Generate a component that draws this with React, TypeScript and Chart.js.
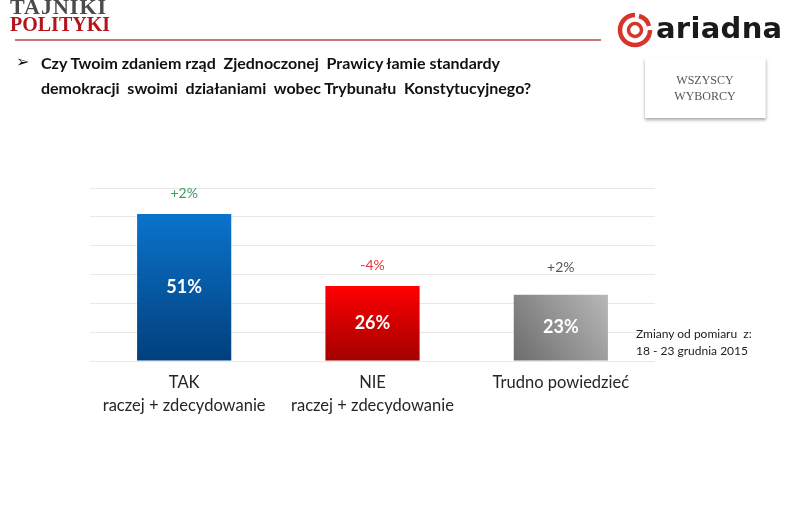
import React, { useEffect, useRef } from 'react';
import { Chart, registerables } from 'chart.js';

Chart.register(...registerables);

// ---- data ----
const categories: string[][] = [
  ['TAK', 'raczej + zdecydowanie'],
  ['NIE', 'raczej + zdecydowanie'],
  ['Trudno powiedzieć'],
];
const values = [51, 26, 23];
const valueLabels = ['51%', '26%', '23%'];
const changeLabels = ['+2%', '-4%', '+2%'];
const yMin = 0;
const yMax = 60;
const yStep = 10;

// ---- styles ----
const changeColors = ['#3a9a5e', '#e0353a', '#555555'];
const changeOffsets = [20, 21, 27];
const gradTop = ['#0a74cc', '#ff0000', '#b8b8b8'];
const gradBottom = ['#023f7c', '#a20000', '#6c6c6c'];
const FONT = 'Lato, "Open Sans", sans-serif';

function barFill(ctx: any) {
  const i = ctx.dataIndex;
  if (i === undefined) return gradTop[0];
  const chart = ctx.chart;
  const area = chart.chartArea;
  const ys = chart.scales.y;
  const xs = chart.scales.x;
  if (!area || !ys || !xs) return gradTop[i];
  const top = ys.getPixelForValue(values[i]);
  const base = ys.getPixelForValue(0);
  const cx = xs.getPixelForValue(i);
  const hw = (xs.width / values.length) * 0.25;
  const c = chart.ctx as CanvasRenderingContext2D;
  const g = i === 2
    ? c.createLinearGradient(cx + hw, top, cx - hw, base)
    : c.createLinearGradient(0, top, 0, base);
  g.addColorStop(0, gradTop[i]);
  g.addColorStop(1, gradBottom[i]);
  return g;
}

const labelPlugin = {
  id: 'barLabels',
  afterDatasetsDraw(chart: any) {
    const meta = chart.getDatasetMeta(0);
    const c = chart.ctx as CanvasRenderingContext2D;
    c.save();
    c.textAlign = 'center';
    c.textBaseline = 'middle';
    meta.data.forEach((bar: any, i: number) => {
      c.font = `bold 18px ${FONT}`;
      c.fillStyle = '#ffffff';
      c.fillText(valueLabels[i], bar.x, (bar.y + bar.base) / 2);
      c.font = `14px ${FONT}`;
      c.fillStyle = changeColors[i];
      c.fillText(changeLabels[i], bar.x, bar.y - changeOffsets[i]);
    });
    c.restore();
  },
};

function ChartCanvas() {
  const ref = useRef<HTMLCanvasElement>(null);
  useEffect(() => {
    if (!ref.current) return;
    const chart = new Chart(ref.current, {
      type: 'bar',
      data: {
        labels: categories as any,
        datasets: [
          {
            data: values,
            backgroundColor: barFill as any,
            borderWidth: 0,
            barPercentage: 1,
            categoryPercentage: 0.5,
          },
        ],
      },
      options: {
        responsive: false,
        animation: false,
        layout: { padding: { left: 90, right: 133, top: 188, bottom: 63 } },
        plugins: { legend: { display: false }, tooltip: { enabled: false }, title: { display: false } },
        scales: {
          x: {
            grid: { display: false, drawTicks: false },
            border: { display: false },
            ticks: {
              color: '#262626',
              padding: 10,
              font: { family: FONT, size: 16.5, lineHeight: '23px' as any },
              maxRotation: 0,
              autoSkip: false,
            },
            afterFit: (scale: any) => {
              scale.height = 100;
            },
          },
          y: {
            min: yMin,
            max: yMax,
            ticks: { display: false, stepSize: yStep },
            grid: { color: '#e8e8e8', drawTicks: false, lineWidth: 1 },
            border: { display: false },
            afterFit: (scale: any) => {
              scale.width = 0;
            },
          },
        },
      },
      plugins: [labelPlugin],
    });
    return () => chart.destroy();
  }, []);
  return (
    <canvas
      ref={ref}
      width={788}
      height={524}
      style={{ position: 'absolute', left: 0, top: 0, width: 788, height: 524 }}
    />
  );
}

export default function App() {
  return (
    <div
      style={{
        position: 'absolute',
        left: 0,
        top: 0,
        width: 788,
        height: 524,
        background: '#ffffff',
        overflow: 'hidden',
        fontFamily: FONT,
      }}
    >
      <ChartCanvas />
      {/* Tajniki Polityki logo */}
      <div
        style={{
          position: 'absolute',
          left: 10,
          top: -4,
          fontFamily: '"Liberation Serif", "DejaVu Serif", serif',
          fontWeight: 'bold',
          fontSize: 22,
          letterSpacing: 1,
          lineHeight: '22px',
          color: '#4a4a4a',
          whiteSpace: 'pre',
        }}
      >
        TAJNIKI
      </div>
      <div
        style={{
          position: 'absolute',
          left: 10,
          top: 14,
          fontFamily: '"Liberation Serif", "DejaVu Serif", serif',
          fontWeight: 'bold',
          fontSize: 20,
          letterSpacing: 0,
          lineHeight: '20px',
          color: '#b3151b',
          whiteSpace: 'pre',
        }}
      >
        POLITYKI
      </div>
      {/* red rule */}
      <div
        style={{ position: 'absolute', left: 15, top: 39, width: 586, height: 2, background: '#c9767a' }}
      />
      {/* ariadna logo */}
      <svg
        style={{ position: 'absolute', left: 617, top: 12 }}
        width={36}
        height={36}
        viewBox="0 0 36 36"
      >
        <path d="M 18 3 A 15 15 0 1 0 33 18" fill="none" stroke="#d7352b" strokeWidth={4.5} />
        <path d="M 22 4 A 14 14 0 0 1 32 14" fill="none" stroke="#d7352b" strokeWidth={4.5} />
        <circle cx={18} cy={18} r={6.5} fill="none" stroke="#d7352b" strokeWidth={3.5} />
      </svg>
      <div
        style={{
          position: 'absolute',
          left: 656,
          top: 11,
          fontFamily: '"DejaVu Sans", sans-serif',
          fontWeight: 'bold',
          fontSize: 29,
          letterSpacing: 0.3,
          lineHeight: '34px',
          color: '#1a1a1a',
        }}
      >
        ariadna
      </div>
      {/* question */}
      <div
        style={{
          position: 'absolute',
          left: 16,
          top: 51,
          fontFamily: '"DejaVu Sans", sans-serif',
          fontSize: 16,
          lineHeight: '22px',
          color: '#111',
        }}
      >
        ➢
      </div>
      <div
        style={{
          position: 'absolute',
          left: 41,
          top: 50,
          fontFamily: FONT,
          fontWeight: 'bold',
          fontSize: 16,
          lineHeight: '25px',
          color: '#111',
          whiteSpace: 'pre',
        }}
      >
        {'Czy Twoim zdaniem rząd  Zjednoczonej  Prawicy łamie standardy\ndemokracji  swoimi  działaniami  wobec Trybunału  Konstytucyjnego?'}
      </div>
      {/* box */}
      <div
        style={{
          position: 'absolute',
          left: 645,
          top: 58,
          width: 120,
          height: 60,
          background: '#fff',
          boxShadow: '0 2px 3px rgba(0,0,0,0.35)',
          borderRight: '1px solid #eee',
          fontFamily: '"Liberation Serif", "DejaVu Serif", serif',
          fontSize: 12,
          lineHeight: '16px',
          color: '#555',
          textAlign: 'center',
          display: 'flex',
          flexDirection: 'column',
          justifyContent: 'center',
        }}
      >
        <div>WSZYSCY</div>
        <div>WYBORCY</div>
      </div>
      {/* note */}
      <div
        style={{
          position: 'absolute',
          left: 636,
          top: 325,
          fontFamily: FONT,
          fontSize: 12,
          lineHeight: '17px',
          color: '#222',
          whiteSpace: 'pre',
        }}
      >
        {'Zmiany od pomiaru  z:\n18 - 23 grudnia 2015'}
      </div>
    </div>
  );
}
